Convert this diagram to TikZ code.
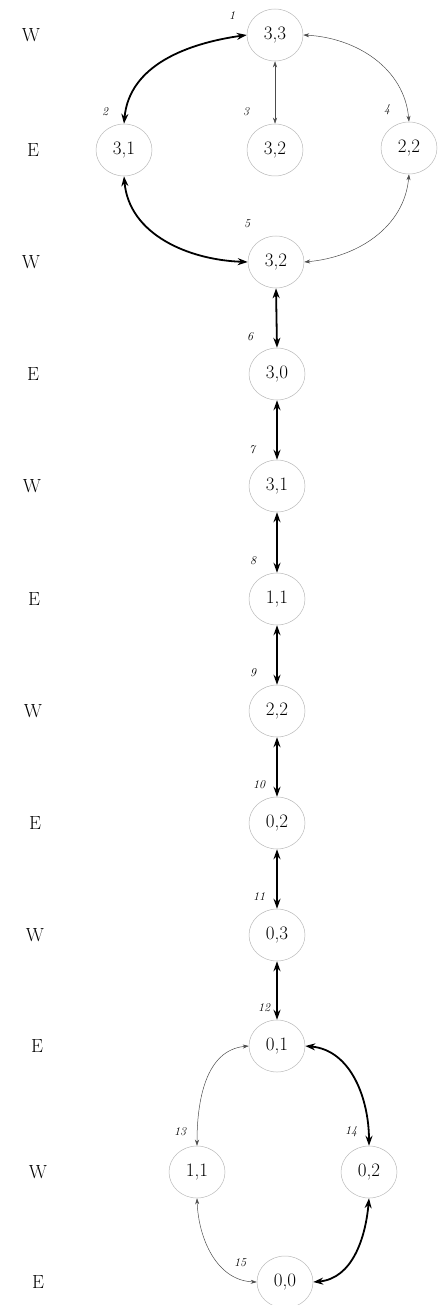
\documentclass[tikz,border=0pt]{standalone}
\usetikzlibrary{arrows.meta,shapes.geometric}
\begin{document}
\begin{tikzpicture}[x=1pt,y=-1pt,
  st/.style={ellipse,draw=gray!55,line width=0.5pt,minimum width=56pt,minimum height=52pt,inner sep=0pt,font=\fontsize{19}{20}\selectfont},
  num/.style={font=\fontsize{12}{13}\selectfont\itshape},
  side/.style={font=\fontsize{19}{20}\selectfont},
  thk/.style={line width=1.8pt,{Stealth[length=10pt,width=7pt]}-{Stealth[length=10pt,width=7pt]}},
  thn/.style={line width=0.5pt,draw=black!70,{Stealth[length=6pt,width=4pt]}-{Stealth[length=6pt,width=4pt]}}]
\useasboundingbox (0,0) rectangle (437,1305);
% side labels
\node[side] (w1) at (31,35) {W};
\node[side] (e1) at (33,150) {E};
\node[side] (w2) at (31,262) {W};
\node[side] (e2) at (33,374) {E};
\node[side] (w3) at (32,486) {W};
\node[side] (e3) at (34,599) {E};
\node[side] (w4) at (33,711) {W};
\node[side] (e4) at (35,823) {E};
\node[side] (w5) at (35,935) {W};
\node[side] (e5) at (37,1046) {E};
\node[side] (w6) at (38,1172) {W};
\node[side] (e6) at (38,1282) {E};
% states
\node[st] (n1) at (275,35) {3,3};
\node[st] (n2) at (124,150) {3,1};
\node[st] (n3) at (275,150) {3,2};
\node[st] (n4) at (409,148) {2,2};
\node[st] (n5) at (276,262) {3,2};
\node[st] (n6) at (277,374) {3,0};
\node[st] (n7) at (277,486) {3,1};
\node[st] (n8) at (277,599) {1,1};
\node[st] (n9) at (277,711) {2,2};
\node[st] (n10) at (277,823) {0,2};
\node[st] (n11) at (277,935) {0,3};
\node[st] (n12) at (277,1046) {0,1};
\node[st] (n13) at (197,1172) {1,1};
\node[st] (n14) at (369,1172) {0,2};
\node[st] (n15) at (285,1282) {0,0};
% numbers
\node[num] (l1) at (232,16) {1};
\node[num] (l2) at (105,112) {2};
\node[num] (l3) at (246,112) {3};
\node[num] (l4) at (387,110) {4};
\node[num] (l5) at (247,224) {5};
\node[num] (l6) at (250,337) {6};
\node[num] (l7) at (252,450) {7};
\node[num] (l8) at (253,561) {8};
\node[num] (l9) at (253,673) {9};
\node[num] (l10) at (259,785) {10};
\node[num] (l11) at (259,897) {11};
\node[num] (l12) at (264,1008) {12};
\node[num] (l13) at (180,1132) {13};
\node[num] (l14) at (351,1132) {14};
\node[num] (l15) at (240,1263) {15};
% edges
\draw[thk] (n1.west) to[out=188,in=85] (n2.north);
\draw[thk] (n2.south) to[out=-85,in=178] (n5.west);
\draw[thn] (n1.south) -- (n3.north);
\draw[thn] (n1.east) to[out=-3,in=95] (n4.north);
\draw[thn] (n4.south) to[out=-95,in=5] (n5.east);
\draw[thk] (n5.south) -- (n6.north);
\draw[thk] (n6.south) -- (n7.north);
\draw[thk] (n7.south) -- (n8.north);
\draw[thk] (n8.south) -- (n9.north);
\draw[thk] (n9.south) -- (n10.north);
\draw[thk] (n10.south) -- (n11.north);
\draw[thk] (n11.south) -- (n12.north);
\draw[thn] (n12.west) to[out=185,in=90] (n13.north);
\draw[thk] (n12.east) to[out=-5,in=90] (n14.north);
\draw[thn] (n13.south) to[out=-88,in=178] (n15.west);
\draw[thk] (n14.south) to[out=-95,in=5] (n15.east);
\end{tikzpicture}
\end{document}
